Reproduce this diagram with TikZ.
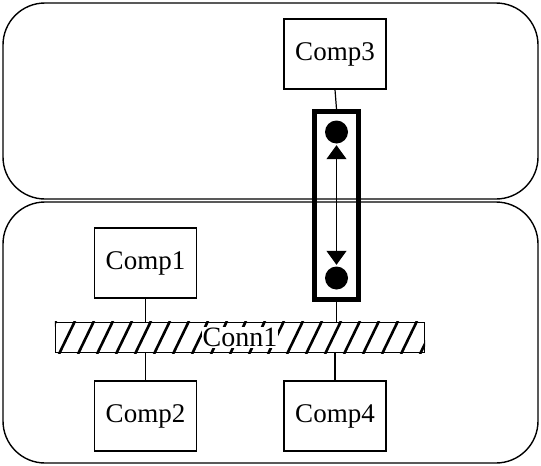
\documentclass[tikz,border=0pt]{standalone}
\usepackage{fontspec}
\setmainfont{Liberation Serif}
\usetikzlibrary{arrows.meta}
\begin{document}
\begin{tikzpicture}[x=1pt,y=-1pt,
  region/.style={draw,line width=1.4pt,rounded corners=42pt},
  comp/.style={draw,line width=1.3pt,minimum width=102pt,minimum height=70pt,inner sep=0pt,font=\fontsize{27}{27}\selectfont},
  bus/.style={draw,line width=1.4pt,minimum width=369pt,minimum height=30pt,inner sep=0pt},
  wire/.style={line width=1.2pt},
  hatch/.style={line width=2.6pt},
  portbox/.style={draw,line width=5pt,minimum width=44pt,minimum height=188pt,inner sep=0pt},
  dot/.style={circle,fill,minimum size=23pt,inner sep=0pt},
  biarrow/.style={wire,{Triangle[width=20pt,length=14pt]}-{Triangle[width=20pt,length=14pt]},shorten <=1.5pt,shorten >=1.5pt}]
\useasboundingbox (0,0) rectangle (541,466);
\draw[region] (3,3) rectangle (538,199);
\draw[region] (3,202) rectangle (538,463);
\node[comp] (comp3) at (335,54) {Comp3};
\node[comp] (comp1) at (145.5,263) {Comp1};
\node[comp] (comp2) at (145.5,416) {Comp2};
\node[comp] (comp4) at (335,416) {Comp4};
\node[bus] (conn1) at (240,337.5) {};
\begin{scope}
  \clip (conn1.south west) rectangle (conn1.north east);
  \foreach \x in {40,59,...,440} \draw[hatch] (\x,354) -- (\x+16,321);
\end{scope}
\node[bus] at (conn1) {};
\node[font=\fontsize{28}{28}\selectfont,fill=white,inner sep=1pt] (conn1label) at (conn1) {Conn1};
\node[portbox] (port) at (336.5,205.5) {};
\node[dot] (c1) at (336.5,132) {};
\node[dot] (c2) at (336.5,278) {};
\draw[wire] (comp3.south) -- (port.north);
\draw[wire] (port.south) -- (port.south |- conn1.north);
\draw[biarrow] (c1.south) -- (c2.north);
\draw[wire] (comp1.south) -- (comp1.south |- conn1.north);
\draw[wire] (conn1.south -| comp2.north) -- (comp2.north);
\draw[wire] (conn1.south -| comp4.north) -- (comp4.north);
\end{tikzpicture}
\end{document}
